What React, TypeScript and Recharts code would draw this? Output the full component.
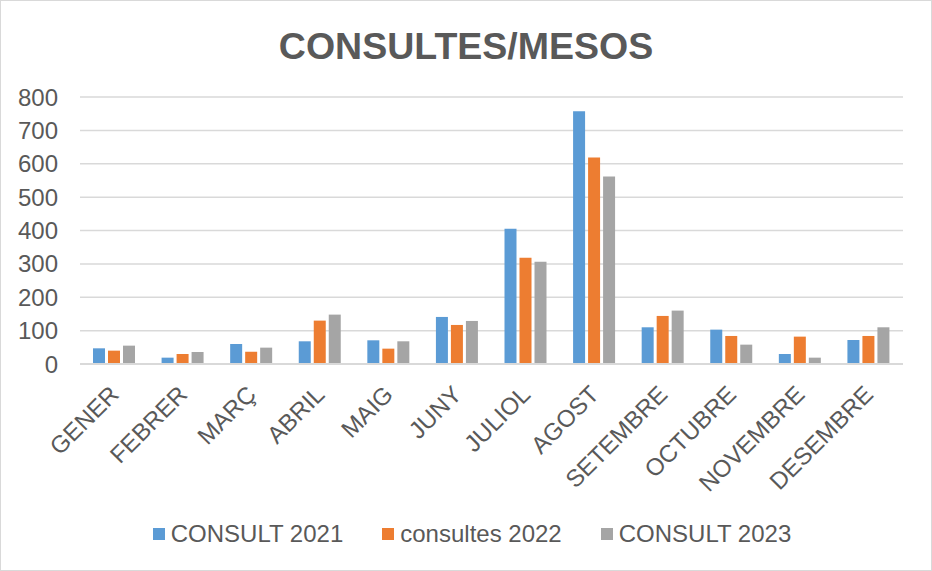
import { Bar, BarChart, CartesianGrid, XAxis, YAxis } from "recharts";

const months = [
  "GENER",
  "FEBRER",
  "MARÇ",
  "ABRIL",
  "MAIG",
  "JUNY",
  "JULIOL",
  "AGOST",
  "SETEMBRE",
  "OCTUBRE",
  "NOVEMBRE",
  "DESEMBRE",
];
const consult2021 = [47, 19, 60, 68, 71, 141, 405, 757, 110, 103, 30, 72];
const consultes2022 = [40, 30, 37, 130, 46, 117, 318, 619, 144, 84, 82, 84];
const consult2023 = [55, 36, 49, 148, 68, 129, 306, 562, 160, 58, 19, 110];
const yTicks = [0, 100, 200, 300, 400, 500, 600, 700, 800];

const series = [
  { key: "c2021", name: "CONSULT 2021", color: "#5B9BD5" },
  { key: "c2022", name: "consultes 2022", color: "#ED7D31" },
  { key: "c2023", name: "CONSULT 2023", color: "#A5A5A5" },
];

const data = months.map((m, i) => ({
  month: m,
  c2021: consult2021[i],
  c2022: consultes2022[i],
  c2023: consult2023[i],
}));

const FONT = "'Liberation Sans', Arial, sans-serif";
const TEXT = "#595959";

function MonthTick({ x, y, payload }: { x?: number; y?: number; payload?: { value: string } }) {
  const cx = x ?? 0;
  const cy = (y ?? 0) + 26;
  return (
    <text
      x={cx}
      y={cy}
      dy="0.35em"
      textAnchor="end"
      transform={`rotate(-45 ${cx} ${cy})`}
      fill={TEXT}
      fontSize={24}
      fontFamily={FONT}
    >
      {payload?.value}
    </text>
  );
}

export default function App() {
  return (
    <div
      style={{
        position: "absolute",
        left: 0,
        top: 0,
        width: 932,
        height: 571,
        background: "#fff",
        fontFamily: FONT,
      }}
    >
      <div
        style={{
          position: "absolute",
          left: 0,
          right: 0,
          top: 25,
          textAlign: "center",
          fontSize: 37.5,
          fontWeight: 700,
          color: TEXT,
        }}
      >
        CONSULTES/MESOS
      </div>
      <div style={{ position: "absolute", left: 0, top: 0 }}>
        <BarChart
          width={932}
          height={571}
          data={data}
          margin={{ top: 97, right: 29, left: 0, bottom: 0 }}
          barSize={12}
          barGap={3}
        >
          <CartesianGrid horizontal vertical={false} stroke="#D9D9D9" strokeWidth={1.5} />
          <XAxis
            dataKey="month"
            height={207}
            interval={0}
            tickLine={false}
            tickSize={0}
            tickMargin={0}
            axisLine={{ stroke: "#D9D9D9", strokeWidth: 2 }}
            tick={<MonthTick />}
          />
          <YAxis
            width={80}
            domain={[0, 800]}
            ticks={yTicks}
            interval={0}
            tickLine={false}
            axisLine={false}
            dx={-14}
            tick={{ fill: TEXT, fontSize: 24, fontFamily: FONT }}
          />
          {series.map((s) => (
            <Bar
              key={s.key}
              dataKey={s.key}
              name={s.name}
              fill={s.color}
              isAnimationActive={false}
            />
          ))}
        </BarChart>
      </div>
      <div
        style={{
          position: "absolute",
          left: 0,
          width: 932,
          top: 520,
          display: "flex",
          justifyContent: "center",
          paddingLeft: 12,
          boxSizing: "border-box",
          gap: 39,
          fontSize: 24,
          color: TEXT,
        }}
      >
        {series.map((s) => (
          <div key={s.key} style={{ display: "flex", alignItems: "center", gap: 6 }}>
            <span style={{ width: 12, height: 12, background: s.color, display: "inline-block" }} />
            <span>{s.name}</span>
          </div>
        ))}
      </div>
      <div
        style={{
          position: "absolute",
          inset: 0,
          border: "1px solid #D9D9D9",
          pointerEvents: "none",
        }}
      />
    </div>
  );
}
